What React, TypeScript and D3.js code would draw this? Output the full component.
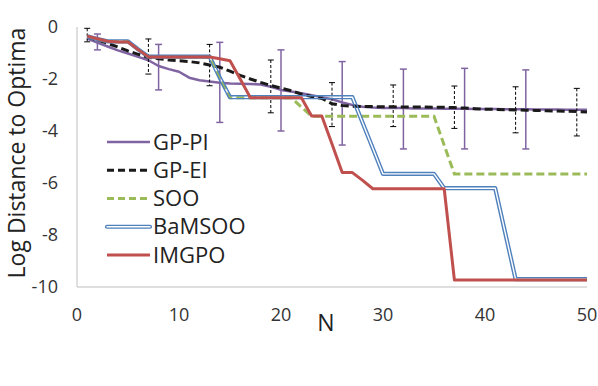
import React from 'react';
import * as d3 from 'd3';

// N = 1..50
const nValues = d3.range(1, 51);

const gpPi = [
	-0.45, -0.6, -0.75, -0.9, -1.02, -1.15, -1.28, -1.5, -1.62, -1.72,
	-1.95, -2.05, -2.1, -2.14, -2.17, -2.18, -2.19, -2.21, -2.3, -2.42,
	-2.48, -2.55, -2.62, -2.7, -2.78, -2.9, -3.0, -3.07, -3.1, -3.12,
	-3.12, -3.12, -3.13, -3.13, -3.13, -3.14, -3.14, -3.14, -3.15, -3.15,
	-3.15, -3.16, -3.16, -3.16, -3.17, -3.17, -3.17, -3.18, -3.18, -3.18,
];
const gpEi = [
	-0.38, -0.5, -0.63, -0.77, -0.92, -1.05, -1.17, -1.22, -1.27, -1.3,
	-1.33, -1.38, -1.46, -1.55, -1.7, -1.86, -2.0, -2.13, -2.25, -2.35,
	-2.45, -2.58, -2.67, -2.75, -2.95, -3.02, -3.05, -3.06, -3.06, -3.07,
	-3.07, -3.08, -3.08, -3.08, -3.09, -3.09, -3.1, -3.12, -3.14, -3.16,
	-3.17, -3.18, -3.19, -3.2, -3.21, -3.22, -3.23, -3.24, -3.25, -3.27,
];
const soo = [
	-0.38, -0.48, -0.56, -0.56, -0.56, -0.88, -1.15, -1.15, -1.15, -1.15,
	-1.15, -1.15, -1.15, -1.95, -2.72, -2.72, -2.72, -2.72, -2.72, -2.72,
	-2.72, -3.08, -3.43, -3.43, -3.43, -3.43, -3.43, -3.43, -3.43, -3.43,
	-3.43, -3.43, -3.43, -3.43, -3.43, -4.55, -5.65, -5.65, -5.65, -5.65,
	-5.65, -5.65, -5.65, -5.65, -5.65, -5.65, -5.65, -5.65, -5.65, -5.65,
];
const bamsoo = [
	-0.36, -0.46, -0.55, -0.55, -0.55, -0.86, -1.14, -1.14, -1.14, -1.14,
	-1.14, -1.14, -1.14, -1.95, -2.7, -2.7, -2.7, -2.7, -2.7, -2.7,
	-2.7, -2.7, -2.7, -2.7, -2.7, -2.7, -2.7, -3.68, -4.66, -5.65,
	-5.65, -5.65, -5.65, -5.65, -5.65, -6.2, -6.2, -6.2, -6.2, -6.2,
	-6.2, -7.95, -9.7, -9.7, -9.7, -9.7, -9.7, -9.7, -9.7, -9.7,
];
const imgpo = [
	-0.35, -0.45, -0.55, -0.58, -0.58, -0.87, -1.15, -1.15, -1.15, -1.15,
	-1.15, -1.15, -1.15, -1.22, -1.3, -2.0, -2.72, -2.72, -2.72, -2.72,
	-2.72, -2.72, -3.42, -3.42, -4.5, -5.6, -5.6, -5.9, -6.22, -6.22,
	-6.22, -6.22, -6.22, -6.22, -6.22, -6.22, -9.73, -9.73, -9.73, -9.73,
	-9.73, -9.73, -9.73, -9.73, -9.73, -9.73, -9.73, -9.73, -9.73, -9.73,
];

// error bars (N, upper, lower)
const piErrN = [2, 8, 14, 20, 26, 32, 38, 44];
const piErrHi = [-0.27, -0.67, -0.59, -0.88, -1.33, -1.62, -1.59, -1.65];
const piErrLo = [-0.88, -2.42, -3.67, -4.0, -4.54, -4.69, -4.69, -4.69];
const eiErrN = [1, 7, 13, 19, 25, 31, 37, 43, 49];
const eiErrHi = [-0.05, -0.46, -0.67, -1.27, -2.14, -2.23, -2.27, -2.3, -2.36];
const eiErrLo = [-0.57, -1.81, -2.26, -3.3, -3.83, -3.83, -3.9, -4.07, -4.19];

const xTicks = [0, 10, 20, 30, 40, 50];
const yTicks = [0, -2, -4, -6, -8, -10];
const legendNames = ['GP-PI', 'GP-EI', 'SOO', 'BaMSOO', 'IMGPO'];

const PURPLE = '#8064a2';
const GREEN = '#9bbb59';
const BLUE = '#4f81bd';
const RED = '#c0504d';
const FONT = '"Open Sans", sans-serif';

export default function App() {
	const width = 598;
	const height = 386;
	const x = d3.scaleLinear().domain([0, 50]).range([77, 587]);
	const y = d3.scaleLinear().domain([-10, 0]).range([287, 27]);

	const line = (vals: number[]) =>
		d3.line<number>().x((_, i) => x(nValues[i])).y(d => y(d))(vals) || '';

	const legY = d3.scaleLinear().domain([0, 4]).range([142, 255]);

	return (
		<svg width={width} height={height} style={{ position: 'absolute', left: 0, top: 0, background: '#fff' }}>
			<defs>
				<mask id="bamMask" maskUnits="userSpaceOnUse" x={0} y={0} width={width} height={height}>
					<rect x={0} y={0} width={width} height={height} fill="#fff" />
					<path d={line(bamsoo)} fill="none" stroke="#000" strokeWidth={1.4} strokeLinejoin="round" />
					<line x1={107} x2={150} y1={legY(3)} y2={legY(3)} stroke="#000" strokeWidth={1.4} strokeLinecap="round" />
				</mask>
			</defs>

			{/* axes */}
			<line x1={x(0)} x2={x(50)} y1={y(-10)} y2={y(-10)} stroke="#bfbfbf" strokeWidth={1} />
			<line x1={x(0)} x2={x(0)} y1={y(0)} y2={y(-10)} stroke="#bfbfbf" strokeWidth={1} />

			{yTicks.map(t => (
				<text key={t} x={58} y={y(t)} dy="0.35em" textAnchor="end" fontFamily={FONT} fontSize={18} fill="#333">{t}</text>
			))}
			{xTicks.map(t => (
				<text key={t} x={x(t)} y={315} dy="0.35em" textAnchor="middle" fontFamily={FONT} fontSize={18} fill="#333">{t}</text>
			))}
			<text transform={`translate(17,${153}) rotate(-90)`} dy="0.35em" textAnchor="middle" fontFamily={FONT} fontSize={23} fill="#222">Log Distance to Optima</text>
			<text x={326} y={323} dy="0.35em" textAnchor="middle" fontFamily={FONT} fontSize={23} fill="#222">N</text>

			{/* GP-PI */}
			<g>
				{piErrN.map((n, i) => (
					<g key={n} stroke={PURPLE} strokeWidth={1.5}>
						<line x1={x(n)} x2={x(n)} y1={y(piErrHi[i])} y2={y(piErrLo[i])} />
						<line x1={x(n) - 3.5} x2={x(n) + 3.5} y1={y(piErrHi[i])} y2={y(piErrHi[i])} />
						<line x1={x(n) - 3.5} x2={x(n) + 3.5} y1={y(piErrLo[i])} y2={y(piErrLo[i])} />
					</g>
				))}
				<path d={line(gpPi)} fill="none" stroke={PURPLE} strokeWidth={2.5} strokeLinejoin="round" />
			</g>

			{/* GP-EI */}
			<g>
				{eiErrN.map((n, i) => (
					<g key={n} stroke="#000" strokeWidth={1}>
						<line x1={x(n)} x2={x(n)} y1={y(eiErrHi[i])} y2={y(eiErrLo[i])} strokeDasharray="3,2" />
						<line x1={x(n) - 3} x2={x(n) + 3} y1={y(eiErrHi[i])} y2={y(eiErrHi[i])} />
						<line x1={x(n) - 3} x2={x(n) + 3} y1={y(eiErrLo[i])} y2={y(eiErrLo[i])} />
					</g>
				))}
				<path d={line(gpEi)} fill="none" stroke="#1a1a1a" strokeWidth={3} strokeDasharray="8,4" />
			</g>

			{/* SOO */}
			<path d={line(soo)} fill="none" stroke={GREEN} strokeWidth={3} strokeDasharray="8,4" />

			{/* BaMSOO (double line) */}
			<path d={line(bamsoo)} fill="none" stroke={BLUE} strokeWidth={4.2} strokeLinejoin="round" mask="url(#bamMask)" />

			{/* IMGPO */}
			<path d={line(imgpo)} fill="none" stroke={RED} strokeWidth={3} strokeLinejoin="round" />

			{/* legend */}
			<g>
				<line x1={107} x2={150} y1={legY(0)} y2={legY(0)} stroke={PURPLE} strokeWidth={2.5} />
				<line x1={107} x2={150} y1={legY(1)} y2={legY(1)} stroke="#1a1a1a" strokeWidth={3} strokeDasharray="7,4" />
				<line x1={107} x2={150} y1={legY(2)} y2={legY(2)} stroke={GREEN} strokeWidth={3} strokeDasharray="7,4" />
				<line x1={107} x2={150} y1={legY(3)} y2={legY(3)} stroke={BLUE} strokeWidth={4.2} strokeLinecap="round" mask="url(#bamMask)" />
				<line x1={107} x2={150} y1={legY(4)} y2={legY(4)} stroke={RED} strokeWidth={3} />
				{legendNames.map((name, i) => (
					<text key={name} x={153} y={legY(i)} dy="0.35em" fontFamily={FONT} fontSize={22} fill="#222">{name}</text>
				))}
			</g>
		</svg>
	);
}
